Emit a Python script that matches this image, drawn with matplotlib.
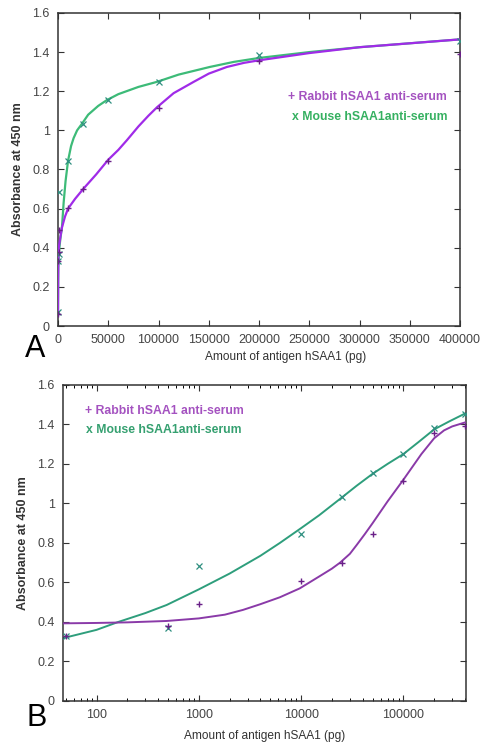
import numpy as np
import matplotlib
matplotlib.use("Agg")
import matplotlib.pyplot as plt
from matplotlib.ticker import FixedLocator, FuncFormatter, LogLocator, NullFormatter

plt.rcParams["font.family"] = ["Liberation Sans", "DejaVu Sans"]

# ------------------------------------------------------------
# measured points (antigen pg -> absorbance at 450 nm)
# ------------------------------------------------------------
antigen_pg = [0, 50, 500, 1000, 10000, 25000, 50000, 100000, 200000, 400000]
rabbit_abs = [0.06, 0.33, 0.38, 0.49, 0.605, 0.70, 0.845, 1.115, 1.355, 1.39]
mouse_abs = [0.07, 0.33, 0.37, 0.685, 0.845, 1.035, 1.155, 1.248, 1.384, 1.455]

# fitted curves, panel A (linear x)
fitA_rabbit_x = [0, 150, 400, 1000, 2500, 4000, 7000, 10000, 17000, 25000, 38000,
                 50000, 60000, 68600, 80000, 90000, 98500, 115000, 135000, 150000,
                 168000, 185000, 200000, 250000, 300000, 350000, 400000]
fitA_rabbit_y = [0.06, 0.25, 0.36, 0.41, 0.46, 0.505, 0.56, 0.60, 0.65, 0.70, 0.775,
                 0.85, 0.90, 0.95, 1.02, 1.075, 1.118, 1.19, 1.248, 1.29,
                 1.324, 1.345, 1.358, 1.395, 1.425, 1.445, 1.465]
fitA_mouse_x = [0, 300, 1000, 2000, 3000, 4000, 5600, 7500, 10000, 13000, 15500, 19000,
                24000, 30000, 40000, 48700, 60000, 80000, 98500, 120000, 151000, 175000,
                200000, 250000, 300000, 350000, 400000]
fitA_mouse_y = [0.07, 0.30, 0.38, 0.43, 0.47, 0.51, 0.63, 0.74, 0.845, 0.92, 0.96, 1.00,
                1.035, 1.08, 1.125, 1.155, 1.185, 1.222, 1.248, 1.285, 1.324, 1.35,
                1.37, 1.40, 1.425, 1.445, 1.465]

# fitted curves, panel B (log x)
fitB_rabbit_x = [47, 100, 200, 485, 1000, 1800, 2700, 4000, 6200, 9700, 15000, 20000,
                 24000, 30000, 35000, 42000, 50000, 70000, 100000, 150000, 200000,
                 250000, 300000, 400000]
fitB_rabbit_y = [0.393, 0.395, 0.398, 0.405, 0.418, 0.437, 0.461, 0.49, 0.525, 0.57, 0.63, 0.67,
                 0.70, 0.745, 0.79, 0.845, 0.90, 1.01, 1.12, 1.25, 1.33,
                 1.37, 1.39, 1.41]
fitB_mouse_x = [47, 100, 163, 300, 485, 1000, 2000, 4000, 6200, 10000, 15000, 25000,
                35000, 50000, 70000, 100000, 140000, 200000, 280000, 400000]
fitB_mouse_y = [0.318, 0.36, 0.40, 0.445, 0.486, 0.565, 0.645, 0.735, 0.80, 0.875, 0.94, 1.03,
                1.09, 1.15, 1.20, 1.25, 1.31, 1.375, 1.415, 1.455]

y_ticks = [0, 0.2, 0.4, 0.6, 0.8, 1.0, 1.2, 1.4, 1.6]
xA_ticks = [0, 50000, 100000, 150000, 200000, 250000, 300000, 350000, 400000]
xB_ticks = [100, 1000, 10000, 100000]

rabbit_label = "+ Rabbit hSAA1 anti-serum"
mouse_label = "x Mouse hSAA1anti-serum"
x_label = "Amount of antigen hSAA1 (pg)"
y_label = "Absorbance at 450 nm"

# ------------------------------------------------------------
# figure
# ------------------------------------------------------------
fig = plt.figure(figsize=(4.85, 7.45), dpi=100)
axA = fig.add_axes([0.1196, 0.5624, 0.829, 0.4202])
axB = fig.add_axes([0.1299, 0.0591, 0.831, 0.4242])

tick_col = "#444444"
fmt = FuncFormatter(lambda v, p: "%g" % v)


def style_axes(ax):
    for s in ax.spines.values():
        s.set_color("#333333")
        s.set_linewidth(1.1)
    ax.tick_params(direction="in", top=True, right=True, length=4, width=0.8,
                   colors="#333333", labelcolor=tick_col, labelsize=9, pad=6)
    ax.tick_params(which="minor", direction="in", top=True, right=True, length=2.5, width=0.7)
    ax.set_ylim(0, 1.6)
    ax.yaxis.set_major_locator(FixedLocator(y_ticks))
    ax.yaxis.set_major_formatter(fmt)
    ax.set_xlabel(x_label, fontsize=8.6, color="#333333", labelpad=6)
    ax.set_ylabel(y_label, fontsize=9, fontweight="bold", color="#333333", labelpad=6)


# ---------------- panel A ----------------
axA.plot(fitA_mouse_x, fitA_mouse_y, color="#3dbb78", lw=1.6, zorder=2)
axA.plot(fitA_rabbit_x, fitA_rabbit_y, color="#a02be8", lw=1.6, zorder=3)
axA.plot(antigen_pg, mouse_abs, ls="none", marker="x", ms=4, mew=0.9, color="#2f8f80", zorder=4)
axA.plot(antigen_pg, rabbit_abs, ls="none", marker="+", ms=4.5, mew=1.0, color="#6a2088", zorder=4)
axA.set_xlim(0, 400000)
axA.xaxis.set_major_locator(FixedLocator(xA_ticks))
axA.xaxis.set_major_formatter(fmt)
style_axes(axA)
axA.xaxis.set_label_coords(0.565, -0.08)
axA.text(0.968, 0.732, rabbit_label, transform=axA.transAxes, ha="right", va="center",
         fontsize=8.8, fontweight="bold", color="#a452c0")
axA.text(0.968, 0.668, mouse_label, transform=axA.transAxes, ha="right", va="center",
         fontsize=8.8, fontweight="bold", color="#35b060")

# ---------------- panel B ----------------
xb = np.array(antigen_pg)
keep = xb > 0
axB.set_xscale("log")
axB.plot(fitB_mouse_x, fitB_mouse_y, color="#2e9e7c", lw=1.4, zorder=2)
axB.plot(fitB_rabbit_x, fitB_rabbit_y, color="#8a3aa8", lw=1.4, zorder=3)
axB.plot(xb[keep], np.array(mouse_abs)[keep], ls="none", marker="x", ms=4, mew=0.9,
         color="#2f8f80", zorder=4)
axB.plot(xb[keep], np.array(rabbit_abs)[keep], ls="none", marker="+", ms=4.5, mew=1.0,
         color="#6a2088", zorder=4)
axB.set_xlim(47, 410000)
axB.xaxis.set_major_locator(FixedLocator(xB_ticks))
axB.xaxis.set_major_formatter(FuncFormatter(lambda v, p: "%d" % v))
axB.xaxis.set_minor_locator(LogLocator(base=10, subs=np.arange(2, 10)))
axB.xaxis.set_minor_formatter(NullFormatter())
style_axes(axB)
axB.text(0.055, 0.918, rabbit_label, transform=axB.transAxes, ha="left", va="center",
         fontsize=8.8, fontweight="bold", color="#a452c0")
axB.text(0.058, 0.858, mouse_label, transform=axB.transAxes, ha="left", va="center",
         fontsize=8.8, fontweight="bold", color="#35a070")

# panel letters
fig.text(0.072, 0.532, "A", fontsize=22, ha="center", va="center")
fig.text(0.075, 0.036, "B", fontsize=22, ha="center", va="center")

fig.savefig("out.png", dpi=100)
